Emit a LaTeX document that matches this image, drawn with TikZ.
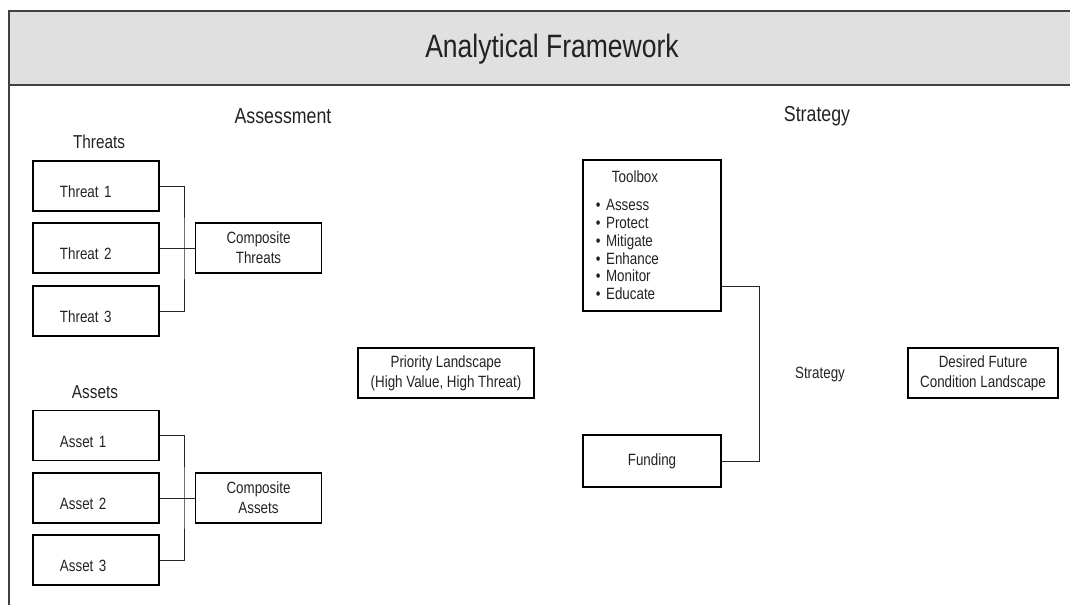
\documentclass[tikz,border=0pt]{standalone}
\usepackage{fontspec}
\setmainfont{Liberation Sans}[FakeStretch=0.82]
\usetikzlibrary{positioning, calc}
\definecolor{hdrgray}{HTML}{E0E0E0}
\definecolor{ink}{HTML}{222222}
\tikzset{
  frame/.style  = {draw=black!75, line width=1.1pt},
  item/.style   = {draw, line width=0.8pt, align=left, text width=1.8cm,
                   inner xsep=0.675cm, minimum height=1.25cm,
                   text height=16.8pt, text depth=0pt, text=ink,
                   font=\fontsize{11.6}{14}\selectfont},
  merge/.style  = {draw, line width=0.8pt, align=center, minimum width=3.15cm,
                   minimum height=1.25cm, text=ink,
                   font=\fontsize{11.6}{14}\selectfont},
  toolbox/.style= {draw, line width=0.8pt, align=left, text width=2.8cm,
                   inner xsep=0.325cm, minimum height=3.775cm, text=ink,
                   font=\fontsize{11.6}{12.7}\selectfont},
  head/.style   = {text=ink, font=\fontsize{15.4}{18}\selectfont},
  sub/.style    = {text=ink, font=\fontsize{13.3}{16}\selectfont},
  link/.style   = {draw=black!85, line width=0.7pt}
}

\begin{document}
\begin{tikzpicture}[x=0.025cm, y=-0.025cm]
\useasboundingbox (0,0) rectangle (1070,605);

% frame and header band
\fill[hdrgray] (9,11) rectangle (1070,85);
\draw[frame] (1070,11) -- (9,11) -- (9,605);
\draw[frame] (9,85) -- (1070,85);
\node[text=ink, font=\fontsize{23}{27}\selectfont] at (552,49) (title) {Analytical Framework};

\node[head] at (283,116) (assess) {Assessment};
\node[head] at (817,116) (strat)  {Strategy};
\node[sub]  at ( 99,142) (thr)    {Threats};
\node[sub]  at ( 95,392) (ast)    {Assets};

% threats
\node[item]  at ( 96  ,186  ) (t1) {Threat 1};
\node[item]  at ( 96  ,248  ) (t2) {Threat 2};
\node[item]  at ( 96  ,311  ) (t3) {Threat 3};
\node[merge] at (258.5,248  ) (ct) {Composite\\Threats};
\coordinate (tj) at (184,248);
\draw[link] (t1.east) -| (tj) |- (t3.east);
\draw[link] (t2.east) -- (ct.west);

% assets
\node[item]  at ( 96  ,435.5) (a1) {Asset 1};
\node[item]  at ( 96  ,498  ) (a2) {Asset 2};
\node[item]  at ( 96  ,560  ) (a3) {Asset 3};
\node[merge] at (258.5,498  ) (ca) {Composite\\Assets};
\coordinate (aj) at (184,498);
\draw[link] (a1.east) -| (aj) |- (a3.east);
\draw[link] (a2.east) -- (ca.west);

\node[merge, minimum width=4.4cm] at (446,373) (prio) {Priority Landscape\\(High Value, High Threat)};

% strategy side
\node[toolbox] at (652,235.5) (tool) {\hspace*{0.4cm}Toolbox\\[7pt]
  \textbullet{} Assess\\ \textbullet{} Protect\\ \textbullet{} Mitigate\\
  \textbullet{} Enhance\\ \textbullet{} Monitor\\ \textbullet{} Educate};
\node[merge, minimum width=3.45cm, minimum height=1.3cm] at (652,461) (fund) {Funding};
\coordinate (sj) at (759,286);
\draw[link] (tool.east |- sj) -- (sj) -- (sj |- fund.east) -- (fund.east);

\node[text=ink, font=\fontsize{11.6}{14}\selectfont] at (820,374) (mid) {Strategy};
\node[merge, minimum width=3.75cm] at (983,373) (goal) {Desired Future\\Condition Landscape};
\end{tikzpicture}
\end{document}
